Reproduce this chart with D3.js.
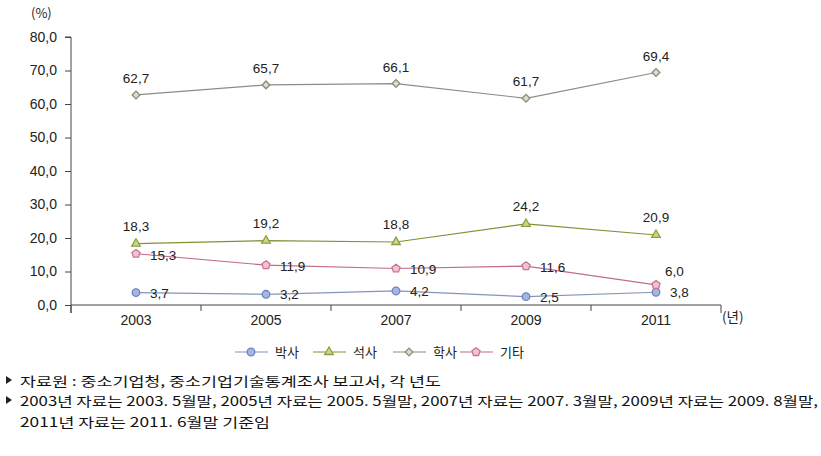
<!DOCTYPE html>
<html><head><meta charset="utf-8">
<script src="https://cdn.jsdelivr.net/npm/d3@7/dist/d3.min.js"></script>
<style>body{margin:0;background:#fff}svg{display:block}</style>
</head><body>
<svg id="c" width="821" height="456"></svg>
<script>
const years = ["2003","2005","2007","2009","2011"];
const phd = [3.7,3.2,4.2,2.5,3.8];
const master = [18.3,19.2,18.8,24.2,20.9];
const bachelor = [62.7,65.7,66.1,61.7,69.4];
const other = [15.3,11.9,10.9,11.6,6.0];
const yTicks = [0,10,20,30,40,50,60,70,80];
const seriesNames = ["박사","석사","학사","기타"];
const notes = [
 "자료원 : 중소기업청, 중소기업기술통계조사 보고서, 각 년도",
 "2003년 자료는 2003. 5월말, 2005년 자료는 2005. 5월말, 2007년 자료는 2007. 3월말, 2009년 자료는 2009. 8월말,",
 "2011년 자료는 2011. 6월말 기준임"
];

const svg = d3.select("#c");
const font = "'Liberation Sans',Arial,sans-serif";
const kfont = "'Noto Sans CJK KR','Noto Sans',sans-serif";
const x = d3.scaleBand().domain(years).range([71,721]);
const y = d3.scaleLinear().domain([0,80]).range([305,37]);
const fmt = v => v.toFixed(1).replace(".", ",");

// axes
const ya = svg.append("g").attr("transform","translate(71,0)")
  .call(d3.axisLeft(y).tickValues(yTicks).tickFormat(fmt).tickSize(6).tickPadding(8));
ya.select(".domain").attr("stroke","#444").attr("d","M-6,37H0V313");
ya.selectAll(".tick line").attr("stroke","#444");
ya.selectAll("text").attr("font-family",font).attr("font-size",14).attr("fill","#222");

const xa = svg.append("g").attr("transform","translate(0,305)")
  .call(d3.axisBottom(x).tickSize(0).tickPadding(10));
xa.select(".domain").attr("stroke","#444").attr("d","M71,0H721");
xa.selectAll("text").attr("font-family",font).attr("font-size",14).attr("fill","#222");
const bounds = years.map(d=>x(d)).concat([x.range()[1]]);
svg.append("g").selectAll("line").data(bounds).join("line")
  .attr("x1",d=>d).attr("x2",d=>d).attr("y1",305).attr("y2",d=> (d===71||d===721)?313:311)
  .attr("stroke","#444");

svg.append("text").attr("x",31).attr("y",18).text("(%)")
  .attr("font-family",kfont).attr("font-size",13).attr("fill","#222");
svg.append("text").attr("x",722).attr("y",322).text("(년)")
  .attr("font-family",kfont).attr("font-size",13.5).attr("fill","#222");

const cx = d => x(d) + x.bandwidth()/2;

const series = [
 {name:"박사", vals:phd, line:"#8394bd", fill:"#a6b6e4", stroke:"#7083bb", shape:"circle", dx:14, dy:5, anchor:"start"},
 {name:"석사", vals:master, line:"#7e9433", fill:"#c9d98a", stroke:"#8aa040", shape:"triangle", dx:0, dy:-13, anchor:"middle"},
 {name:"학사", vals:bachelor, line:"#8c8c82", fill:"#dcdccc", stroke:"#8a8a7a", shape:"diamond", dx:0, dy:-12, anchor:"middle"},
 {name:"기타", vals:other, line:"#c46a8c", fill:"#f2c2d4", stroke:"#c77596", shape:"pentagon", dx:14, dy:6, anchor:"start"}
];
function marker(g, s, px, py){
  if(s.shape==="circle"){
    g.append("circle").attr("cx",px).attr("cy",py).attr("r",3.8).attr("fill",s.fill).attr("stroke",s.stroke).attr("stroke-width",1.3);
    return;
  }
  let path, rot = "";
  if(s.shape==="triangle"){ path = d3.symbol().type(d3.symbolTriangle).size(32)(); }
  else if(s.shape==="diamond"){ path = d3.symbol().type(d3.symbolSquare).size(30)(); rot=" rotate(45)"; }
  else {
    const r=4.3; const pts=d3.range(5).map(i=>{const a=-Math.PI/2+i*2*Math.PI/5;return [r*Math.cos(a),r*Math.sin(a)];});
    path = "M"+pts.map(p=>p.join(",")).join("L")+"Z";
  }
  g.append("path").attr("d",path).attr("transform",`translate(${px},${py})${rot}`)
    .attr("fill",s.fill).attr("stroke",s.stroke).attr("stroke-width",1.3);
}
series.forEach(s=>{
  const g = svg.append("g");
  const pts = years.map((yr,i)=>[cx(yr), y(s.vals[i])]);
  g.append("path").attr("d",d3.line()(pts)).attr("fill","none").attr("stroke",s.line).attr("stroke-width",1.2);
  pts.forEach((p,i)=>{
    marker(g,s,p[0],p[1]);
    let dx=s.dx, dy=s.dy, anchor=s.anchor;
    if(s.name==="기타" && i===4){ dx=9; dy=-9; }
    g.append("text").attr("x",p[0]+dx).attr("y",p[1]+dy).attr("text-anchor",anchor)
      .text(fmt(s.vals[i])).attr("font-family",font).attr("font-size",13.5).attr("fill","#222");
  });
});

// legend
const legX = [235, 313, 393, 460];
series.forEach((s,i)=>{
  const g = svg.append("g");
  const lx = legX[i], ly = 352;
  g.append("line").attr("x1",lx).attr("x2",lx+33).attr("y1",ly).attr("y2",ly).attr("stroke",s.line).attr("stroke-width",1.2);
  marker(g,s,lx+16,ly);
  g.append("text").attr("x",lx+40).attr("y",ly+5).text(seriesNames[i])
    .attr("font-family",kfont).attr("font-size",13).attr("fill","#222");
});

// notes
const noteY = [386, 406, 427];
const noteLen = [421, 798, 250];
notes.forEach((t,i)=>{
  if(i<2){
    svg.append("path").attr("d",`M6,${noteY[i]-10}L12,${noteY[i]-6}L6,${noteY[i]-2}Z`).attr("fill","#222");
  }
  svg.append("text").attr("x",20).attr("y",noteY[i]).text(t)
    .attr("font-family",kfont).attr("font-size",13).attr("fill","#111")
    .attr("textLength",noteLen[i]).attr("lengthAdjust","spacingAndGlyphs");
});
</script>
</body></html>
